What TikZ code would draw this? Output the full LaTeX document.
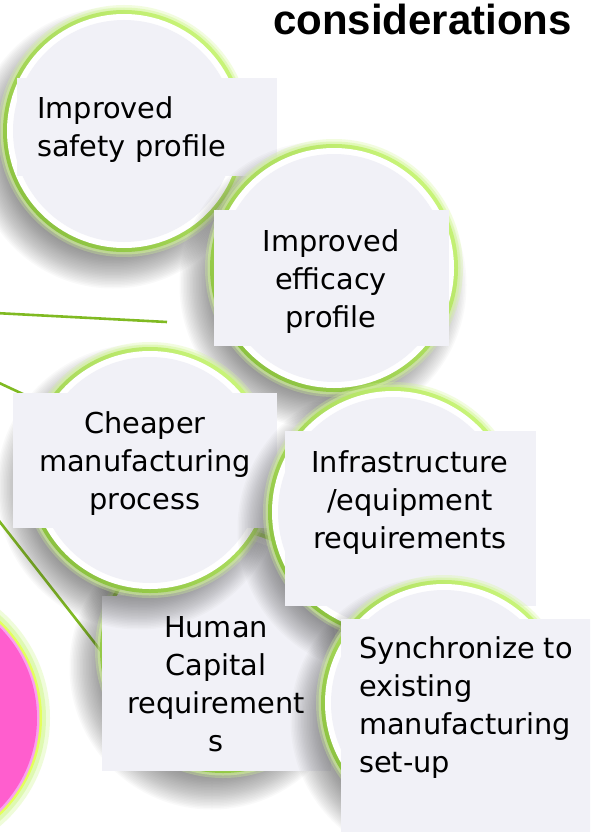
\documentclass[tikz,border=0pt]{standalone}
\usepackage{fontspec}
\setmainfont{DejaVu Sans}
\newfontfamily\titlefont{Liberation Sans}
\definecolor{lav}{RGB}{241,241,247}
\definecolor{glowc}{RGB}{212,248,150}
\definecolor{gtop}{RGB}{200,244,120}
\definecolor{gbot}{RGB}{140,194,64}
\definecolor{shadowc}{RGB}{60,60,60}
\definecolor{linkc}{RGB}{128,186,34}
\definecolor{pinkc}{RGB}{255,94,206}
\definecolor{pinklight}{RGB}{250,160,240}
\definecolor{yellowc}{RGB}{228,255,90}
\newcommand\mybubble[3]{%
  \foreach \k in {1,...,24}{%
    \pgfmathsetmacro\rr{#3+18-1.5*\k}%
    \fill[shadowc,opacity=0.028] (#1-11,#2+17) circle[radius=\rr pt];}
  \pgfmathsetmacro\rA{#3+2}\pgfmathsetmacro\rB{#3-0.5}\pgfmathsetmacro\rC{#3-3}%
  \pgfmathsetmacro\rD{#3-7}\pgfmathsetmacro\rE{#3-13}%
  \fill[glowc,opacity=.3] (#1,#2) circle[radius=\rA pt];
  \fill[glowc,opacity=.5] (#1,#2) circle[radius=\rB pt];
  \shade[top color=gtop,bottom color=gbot,shading angle=-45] (#1,#2) circle[radius=\rC pt];
  \fill[white] (#1,#2) circle[radius=\rD pt];
  \fill[lav] (#1,#2) circle[radius=\rE pt];
}
\begin{document}
\begin{tikzpicture}[x=1pt,y=-1pt,
  box/.style={fill=lav,draw=none,inner sep=0pt,outer sep=0pt,anchor=north west},
  lbl/.style={font=\fontsize{28.8}{38}\selectfont,inner sep=0pt,text=black},
  link/.style={draw=linkc,line width=2.6pt}]
\useasboundingbox (0,0) rectangle (590,832);
\clip (0,0) rectangle (590,832);
\fill[white] (0,0) rectangle (590,832);

% connectors (behind everything)
\coordinate (hubA) at (-5,313);
\coordinate (effend) at (167,322);
\coordinate (hubB) at (-5,381);
\coordinate (cheapend) at (40,402);
\coordinate (hubC) at (-4,517);
\coordinate (humanend) at (101,651);
\draw[link] (hubA) -- (effend);
\draw[link] (hubB) -- (cheapend);
\draw[link] (hubC) -- (humanend);

% pink circle
\fill[glowc,opacity=.35] (-92,718) circle[radius=142pt];
\fill[glowc,opacity=.6] (-92,718) circle[radius=138pt];
\fill[yellowc] (-92,718) circle[radius=134pt];
\fill[pinklight] (-92,718) circle[radius=131.5pt];
\fill[pinkc] (-92,718) circle[radius=129pt];

% title
\node[anchor=base east,inner sep=0pt,font=\titlefont\bfseries\fontsize{42}{42}\selectfont] (title) at (572,35) {considerations};

% safety
\mybubble{124}{131}{124}
\node[box,minimum width=260pt,minimum height=98pt] (safetybox) at (17,78) {};
\node[lbl,anchor=north west,align=left] (safetytxt) at (37,96) {\rule{0pt}{22pt}Improved\\safety profile};

% efficacy
\mybubble{334}{268}{127}
\node[box,minimum width=235pt,minimum height=136pt] (efficacybox) at (214,210) {};
\node[lbl,anchor=north,align=center] (efficacytxt) at (331,229) {\rule{0pt}{22pt}Improved\\efficacy\\profile};

% human capital
\mybubble{223}{650}{126}
\node[box,minimum width=229pt,minimum height=175pt] (humanbox) at (102,596) {};
\node[lbl,anchor=north,align=center] (humantxt) at (216,615) {\rule{0pt}{22pt}Human\\Capital\\requirement\\s};

% cheaper
\mybubble{150}{470}{126}
\node[box,minimum width=264pt,minimum height=135pt] (cheaperbox) at (13,393) {};
\node[lbl,anchor=north,align=center] (cheapertxt) at (145,411) {\rule{0pt}{22pt}Cheaper\\manufacturing\\process};

% infrastructure
\mybubble{393}{512}{128}
\node[box,minimum width=251pt,minimum height=175pt] (infrabox) at (285,431) {};
\node[lbl,anchor=north,align=center] (infratxt) at (410,450) {\rule{0pt}{22pt}Infrastructure\\/equipment\\requirements};

% synchronize
\mybubble{444}{703}{126}
\node[box,minimum width=260pt,minimum height=220pt] (syncbox) at (341,619) {};
\node[lbl,anchor=north west,align=left] (synctxt) at (359,636) {\rule{0pt}{22pt}Synchronize to\\existing\\manufacturing\\set-up};
\end{tikzpicture}
\end{document}
